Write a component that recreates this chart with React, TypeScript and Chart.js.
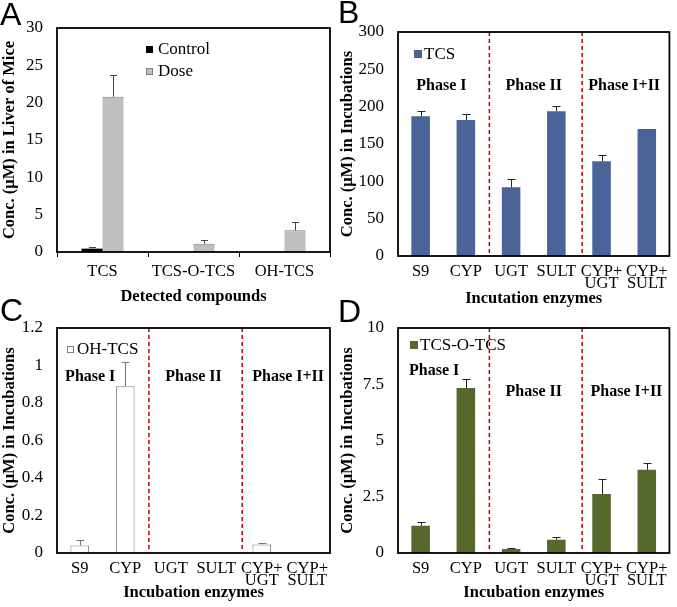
import React, { useEffect, useRef } from "react";
import { Chart, registerables } from "chart.js";

Chart.register(...registerables);

// ---------- Data ----------
// Panel A: liver of mice
const compoundsA = ["TCS", "TCS-O-TCS", "OH-TCS"];
const controlA = [0.45, 0, 0];
const controlErrA = [0.22, 0, 0];
const doseA = [20.8, 1.1, 2.9];
const doseErrA = [2.9, 0.55, 1.1];
const ticksA = [0, 5, 10, 15, 20, 25, 30];

// Incubation panels (B, C, D)
const enzymes = [["S9"], ["CYP"], ["UGT"], ["SULT"], ["CYP+", "UGT"], ["CYP+", "SULT"]];
const tcsB = [187, 182, 92, 194, 127, 170];
const tcsErrB = [7, 8, 11, 7, 8, 0];
const ticksB = [0, 50, 100, 150, 200, 250, 300];

const ohTcsC = [0.04, 0.89, 0, 0, 0.046, 0];
const ohTcsErrC = [0.027, 0.13, 0, 0, 0.009, 0];
const ticksC = [0, 0.2, 0.4, 0.6, 0.8, 1, 1.2];

const tcsOTcsD = [1.21, 7.33, 0.18, 0.59, 2.62, 3.7];
const tcsOTcsErrD = [0.18, 0.4, 0.04, 0.12, 0.67, 0.3];
const ticksD = [0, 2.5, 5, 7.5, 10];

const phaseNames = ["Phase I", "Phase II", "Phase I+II"];
const phaseDividers = [1.52, 3.57];

// ---------- Styling ----------
const SERIF = '"Liberation Serif", "Times New Roman", Times, serif';
const SANS = '"Liberation Sans", Arial, Helvetica, sans-serif';

type PanelCfg = {
  letter: string;
  letterX: number;
  letterY: number;
  errors: (number[] | null)[];
  errColor: string;
  capHalf: number;
  dividers?: number[];
  phases?: { x: number; y: number }[];
  legendX: number;
  legendY: number[];
  swatch: number;
  legendTextX: number;
};

function fmt(v: number) {
  return String(Math.round(v * 100) / 100);
}

function decorPlugin(p: PanelCfg) {
  return {
    id: "decor" + p.letter,
    afterDatasetsDraw(chart: any) {
      const ctx: CanvasRenderingContext2D = chart.ctx;
      const ca = chart.chartArea;
      const xs = chart.scales.x;
      const ys = chart.scales.y;
      ctx.save();

      // error bars (upper only)
      chart.data.datasets.forEach((ds: any, i: number) => {
        const errs = p.errors[i];
        if (!errs) return;
        const meta = chart.getDatasetMeta(i);
        meta.data.forEach((bar: any, j: number) => {
          const v = ds.data[j] as number;
          const e = errs[j];
          if (!e) return;
          const x = Math.round(bar.x) + 0.5;
          const y0 = ys.getPixelForValue(v);
          const y1 = Math.round(ys.getPixelForValue(v + e)) + 0.5;
          ctx.strokeStyle = p.errColor;
          ctx.lineWidth = 1;
          ctx.beginPath();
          ctx.moveTo(x, y0);
          ctx.lineTo(x, y1);
          ctx.moveTo(x - p.capHalf, y1);
          ctx.lineTo(x + p.capHalf, y1);
          ctx.stroke();
        });
      });

      // phase labels
      if (p.phases) {
        ctx.fillStyle = "#000";
        ctx.font = `bold 16px ${SERIF}`;
        ctx.textAlign = "center";
        ctx.textBaseline = "middle";
        p.phases.forEach((ph, k) => {
          ctx.fillText(phaseNames[k], xs.getPixelForValue(ph.x), ys.getPixelForValue(ph.y));
        });
      }

      // legend
      chart.data.datasets.forEach((ds: any, i: number) => {
        const cy = p.legendY[i];
        const s = p.swatch;
        const sx = p.legendX;
        const sy = Math.round(cy - s / 2);
        ctx.fillStyle = ds.backgroundColor;
        ctx.fillRect(sx, sy, s, s);
        if (ds.borderWidth) {
          ctx.strokeStyle = ds.borderColor;
          ctx.lineWidth = 1;
          ctx.strokeRect(sx + 0.5, sy + 0.5, s - 1, s - 1);
        }
        ctx.fillStyle = "#000";
        ctx.font = `17px ${SERIF}`;
        ctx.textAlign = "left";
        ctx.textBaseline = "middle";
        ctx.fillText(ds.label, p.legendTextX, cy + 1);
      });

      // dividers
      if (p.dividers) {
        ctx.setLineDash([4, 3]);
        ctx.strokeStyle = "#C00000";
        ctx.lineWidth = 1.5;
        p.dividers.forEach((d) => {
          const x = xs.getPixelForValue(d);
          ctx.beginPath();
          ctx.moveTo(x, ca.top);
          ctx.lineTo(x, ca.bottom);
          ctx.stroke();
        });
        ctx.setLineDash([]);
      }

      // plot box
      ctx.strokeStyle = "#000";
      ctx.lineWidth = 1.8;
      ctx.strokeRect(ca.left, ca.top, ca.right - ca.left, ca.bottom - ca.top);

      // panel letter
      ctx.fillStyle = "#000";
      ctx.font = `32px ${SANS}`;
      ctx.textAlign = "left";
      ctx.textBaseline = "alphabetic";
      ctx.fillText(p.letter, p.letterX, p.letterY);

      ctx.restore();
    },
  };
}

type BuildOpts = {
  labels: any[];
  datasets: any[];
  yMin: number;
  yMax: number;
  yTicks: number[];
  yTitle: string;
  xTitle: string;
  yAxisWidth: number;
  xAxisHeight: number;
  padTop: number;
  padRight: number;
  tickMarks: boolean;
  xLabelPad: number;
  xTitlePad: number;
  yTitlePad: number;
  catPct: number;
  panel: PanelCfg;
};

function buildConfig(o: BuildOpts): any {
  return {
    type: "bar",
    data: { labels: o.labels, datasets: o.datasets },
    options: {
      responsive: false,
      animation: false,
      devicePixelRatio: 1,
      layout: { padding: { left: 0, top: o.padTop, right: o.padRight, bottom: 0 } },
      datasets: { bar: { categoryPercentage: o.catPct, barPercentage: 1 } },
      plugins: { legend: { display: false }, tooltip: { enabled: false }, title: { display: false } },
      scales: {
        x: {
          type: "category",
          offset: true,
          grid: {
            display: o.tickMarks,
            drawOnChartArea: false,
            drawTicks: o.tickMarks,
            tickLength: 5,
            color: "#000",
            lineWidth: 1,
            offset: true,
          },
          border: { display: false },
          ticks: {
            color: "#000",
            font: { family: SERIF, size: 16.5, lineHeight: 0.75 },
            padding: o.xLabelPad,
            maxRotation: 0,
            minRotation: 0,
            autoSkip: false,
          },
          title: {
            display: true,
            text: o.xTitle,
            color: "#000",
            font: { family: SERIF, size: 16.5, weight: "bold" },
            padding: { top: 0, bottom: o.xTitlePad },
          },
          afterFit: (s: any) => {
            s.height = o.xAxisHeight;
          },
        },
        y: {
          min: o.yMin,
          max: o.yMax,
          grid: { display: false, drawTicks: false },
          border: { display: false },
          afterBuildTicks: (s: any) => {
            s.ticks = o.yTicks.map((v) => ({ value: v }));
          },
          ticks: {
            color: "#000",
            font: { family: SERIF, size: 17 },
            padding: 14,
            callback: (v: any) => fmt(Number(v)),
          },
          title: {
            display: true,
            text: o.yTitle,
            color: "#000",
            font: { family: SERIF, size: 16.5, weight: "bold" },
            padding: { top: o.yTitlePad, bottom: 0 },
          },
          afterFit: (s: any) => {
            s.width = o.yAxisWidth;
          },
        },
      },
    },
    plugins: [decorPlugin(o.panel)],
  };
}

function Panel(props: { left: number; top: number; width: number; height: number; build: () => any }) {
  const ref = useRef<HTMLCanvasElement>(null);
  useEffect(() => {
    const chart = new Chart(ref.current as HTMLCanvasElement, props.build());
    return () => chart.destroy();
  }, []);
  return (
    <canvas
      ref={ref}
      width={props.width}
      height={props.height}
      style={{ position: "absolute", left: props.left, top: props.top, width: props.width, height: props.height }}
    />
  );
}

const buildA = () =>
  buildConfig({
    labels: compoundsA,
    datasets: [
      { label: "Control", data: controlA, backgroundColor: "#000000", borderWidth: 0 },
      { label: "Dose", data: doseA, backgroundColor: "#BFBFBF", borderColor: "#7F7F7F", borderWidth: 1 },
    ],
    yMin: 0,
    yMax: 30,
    yTicks: ticksA,
    yTitle: "Conc. (\u03bcM) in Liver of Mice",
    xTitle: "Detected compounds",
    yAxisWidth: 57,
    xAxisHeight: 58,
    padTop: 28,
    padRight: 8,
    tickMarks: true,
    xLabelPad: 8,
    xTitlePad: 3,
    yTitlePad: 0,
    catPct: 0.4615,
    panel: {
      letter: "A",
      letterX: 0,
      letterY: 25,
      errors: [controlErrA, doseErrA],
      errColor: "#444444",
      capHalf: 3.5,
      legendX: 146,
      legendY: [49, 71],
      swatch: 7,
      legendTextX: 158,
    },
  });

const buildB = () =>
  buildConfig({
    labels: enzymes,
    datasets: [{ label: "TCS", data: tcsB, backgroundColor: "#4A6399", borderWidth: 0 }],
    yMin: 0,
    yMax: 300,
    yTicks: ticksB,
    yTitle: "Conc. (\u03bcM) in Incubations",
    xTitle: "Incutation enzymes",
    yAxisWidth: 60,
    xAxisHeight: 54,
    padTop: 32,
    padRight: 6,
    tickMarks: false,
    xLabelPad: 9,
    xTitlePad: 1,
    yTitlePad: 0,
    catPct: 0.41,
    panel: {
      letter: "B",
      letterX: 0,
      letterY: 23,
      errors: [tcsErrB],
      errColor: "#222222",
      capHalf: 4,
      dividers: phaseDividers,
      phases: [
        { x: 0.46, y: 228 },
        { x: 2.5, y: 228 },
        { x: 4.5, y: 228 },
      ],
      legendX: 76,
      legendY: [54],
      swatch: 8,
      legendTextX: 86,
    },
  });

const buildC = () =>
  buildConfig({
    labels: enzymes,
    datasets: [{ label: "OH-TCS", data: ohTcsC, backgroundColor: "#FFFFFF", borderColor: "#808080", borderWidth: 1 }],
    yMin: 0,
    yMax: 1.2,
    yTicks: ticksC,
    yTitle: "Conc. (\u03bcM) in Incubations",
    xTitle: "Incubation enzymes",
    yAxisWidth: 57,
    xAxisHeight: 54,
    padTop: 32,
    padRight: 8,
    tickMarks: false,
    xLabelPad: 9,
    xTitlePad: 4,
    yTitlePad: 0,
    catPct: 0.41,
    panel: {
      letter: "C",
      letterX: 0,
      letterY: 25,
      errors: [ohTcsErrC],
      errColor: "#777777",
      capHalf: 4,
      dividers: phaseDividers,
      phases: [
        { x: 0.23, y: 0.94 },
        { x: 2.5, y: 0.94 },
        { x: 4.58, y: 0.94 },
      ],
      legendX: 67,
      legendY: [53],
      swatch: 7,
      legendTextX: 77,
    },
  });

const buildD = () =>
  buildConfig({
    labels: enzymes,
    datasets: [{ label: "TCS-O-TCS", data: tcsOTcsD, backgroundColor: "#56682C", borderWidth: 0 }],
    yMin: 0,
    yMax: 10,
    yTicks: ticksD,
    yTitle: "Conc. (\u03bcM) in Incubations",
    xTitle: "Incubation enzymes",
    yAxisWidth: 60,
    xAxisHeight: 54,
    padTop: 32,
    padRight: 6,
    tickMarks: false,
    xLabelPad: 9,
    xTitlePad: 4,
    yTitlePad: 0,
    catPct: 0.41,
    panel: {
      letter: "D",
      letterX: 0,
      letterY: 26,
      errors: [tcsOTcsErrD],
      errColor: "#222222",
      capHalf: 4,
      dividers: phaseDividers,
      phases: [
        { x: 0.3, y: 8.1 },
        { x: 2.5, y: 7.15 },
        { x: 4.55, y: 7.15 },
      ],
      legendX: 72,
      legendY: [49],
      swatch: 8,
      legendTextX: 82,
    },
  });

export default function App() {
  return (
    <div
      style={{
        position: "absolute",
        left: 0,
        top: 0,
        width: 677,
        height: 607,
        background: "#FFFFFF",
        overflow: "hidden",
      }}
    >
      <Panel left={0} top={0} width={338} height={310} build={buildA} />
      <Panel left={338} top={0} width={339} height={310} build={buildB} />
      <Panel left={0} top={296} width={338} height={311} build={buildC} />
      <Panel left={338} top={296} width={339} height={311} build={buildD} />
    </div>
  );
}
